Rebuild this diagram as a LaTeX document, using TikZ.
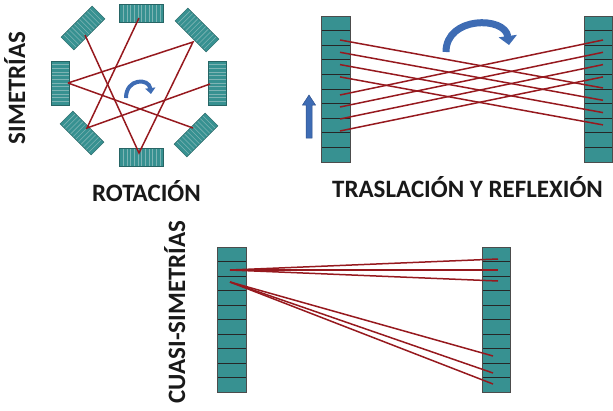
\documentclass[tikz,border=0pt]{standalone}
\usepackage{fontspec}
\setmainfont{Carlito}
\usetikzlibrary{arrows.meta}
\definecolor{tealfill}{RGB}{55,145,145}
\definecolor{tealstripe}{RGB}{125,180,180}
\definecolor{redl}{RGB}{150,25,30}
\definecolor{bluea}{RGB}{62,108,180}
\definecolor{blueo}{RGB}{45,80,140}
\definecolor{txt}{RGB}{25,25,25}
\newcommand\rblock[3]{%
  \begin{scope}[shift={(#1,#2)},rotate=#3]
    \fill[tealfill] (-22,-9) rectangle (22,9);
    \foreach \k in {1,...,11} \draw[stripe] (-22+\k*3.667,-9) -- (-22+\k*3.667,9);
    \draw[tealfill!70!black, line width=0.5pt] (-22,-9) rectangle (22,9);
  \end{scope}}
\newcommand\cellcol[4]{%
  \fill[tealfill] (#1,#2) rectangle (#1+#3,#2+#4);
  \foreach \k in {1,...,9} \draw[cellsep] (#1,#2+\k*#4/10) -- (#1+#3,#2+\k*#4/10);
  \draw[colborder] (#1,#2) rectangle (#1+#3,#2+#4);}
\begin{document}
\begin{tikzpicture}[x=1pt,y=-1pt,
  lbl/.style={font=\bfseries\fontsize{25}{30}\selectfont, text=txt, inner sep=0pt},
  redline/.style={draw=redl, line width=1.5pt},
  stripe/.style={draw=tealstripe, line width=0.6pt},
  cellsep/.style={draw=black!85, line width=0.7pt},
  colborder/.style={draw=black!70, line width=0.9pt},
  bluearrow/.style={draw=bluea, line width=#1},
  ]
\useasboundingbox (0,0) rectangle (613,410);

% ---- Rotation ----
\rblock{141.5}{13.5}{0}
\rblock{141.5}{157.5}{0}
\rblock{60}{83}{90}
\rblock{217.5}{83}{90}
\rblock{83}{28}{45}
\rblock{197}{30}{-45}
\rblock{82}{133}{-45}
\rblock{196}{135}{45}

\coordinate (rT) at (139,18);
\coordinate (rBL) at (87,128);
\coordinate (rR) at (210,84);
\coordinate (rTL) at (85,35);
\coordinate (rB) at (139,153);
\coordinate (rTR) at (193,42);
\coordinate (rL) at (68,83);
\coordinate (rBR) at (193,128);
\draw[redline] (rT) -- (rBL) -- (rR);
\draw[redline] (rL) -- (rTR) -- (rB) -- (rTL);
\draw[redline] (rL) -- (rBR);

\coordinate (ra1) at (126,98);
\coordinate (ra2) at (151,94);
\draw[bluearrow=4pt, -{Triangle[width=10pt,length=6pt]}] (ra1) .. controls (126,78) and (149,78) .. (ra2);

\node[lbl, rotate=90, anchor=base] (lsim) at (25,88) {SIMETRÍAS};
\node[lbl, anchor=base] (lrot) at (146.5,201) {ROTACIÓN};

% ---- Translation and reflection ----
\cellcol{321}{16}{29}{146}
\cellcol{584}{16}{28}{146}
\foreach \i in {0,...,3}{
  \coordinate (tla\i) at (340,40+\i*12.3);
  \coordinate (trb\i) at (603,88+\i*12.3);
  \coordinate (tlb\i) at (340,95+\i*12);
  \coordinate (tra\i) at (603,40+\i*12.3);
  \draw[redline] (tla\i) -- (trb\i);
  \draw[redline] (tlb\i) -- (tra\i);
}
\coordinate (ta1) at (446,52);
\coordinate (ta2) at (509,45);
\draw[bluearrow=7pt, -{Triangle[width=18pt,length=9pt]}] (ta1) .. controls (446,16) and (505,16) .. (ta2);
\fill[bluea, draw=blueo, line width=0.5pt] (306,138) -- (306,105) -- (302.5,105) -- (309,95) -- (315.5,105) -- (312,105) -- (312,138) -- cycle;

\node[lbl, anchor=base] (ltr) at (467.5,197) {TRASLACIÓN Y REFLEXIÓN};

% ---- Quasi-symmetries ----
\cellcol{217}{247}{29}{145}
\cellcol{482}{247}{28}{145}
\coordinate (qa) at (230,270);
\coordinate (qb) at (230,282);
\coordinate (q1) at (498,259);
\coordinate (q2) at (498,270);
\coordinate (q3) at (498,281);
\coordinate (q4) at (493,356);
\coordinate (q5) at (493,373);
\coordinate (q6) at (493,384);
\foreach \t in {q1,q2,q3} \draw[redline] (qa) -- (\t);
\foreach \t in {q4,q5,q6} \draw[redline] (qb) -- (\t);

\node[lbl, rotate=90, anchor=base] (lcuasi) at (185,312) {CUASI-SIMETRÍAS};
\end{tikzpicture}
\end{document}
